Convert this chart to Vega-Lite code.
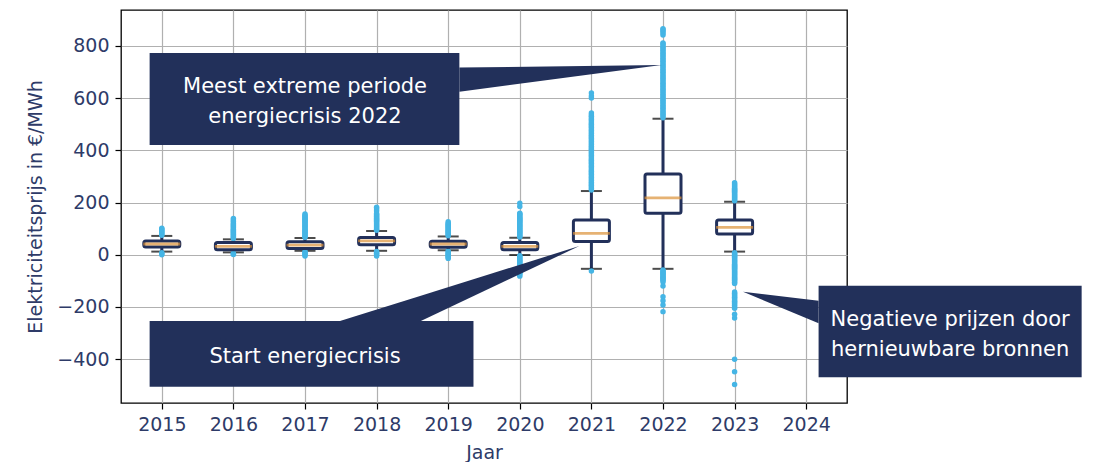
{
  "$schema": "https://vega.github.io/schema/vega-lite/v6.json",
  "width": 726,
  "height": 393,
  "autosize": {"type": "none"},
  "padding": {"left": 121, "top": 10, "right": 255, "bottom": 59},
  "background": "white",
  "config": {
    "view": {"stroke": "#000000", "strokeWidth": 1.3},
    "font": "DejaVu Sans",
    "axis": {
      "grid": true,
      "gridColor": "#b0b0b0",
      "gridWidth": 1.2,
      "domain": false,
      "tickColor": "#000000",
      "tickSize": 6,
      "tickWidth": 1.2,
      "labelFont": "DejaVu Sans",
      "labelFontSize": 19,
      "labelColor": "#2e3b68",
      "titleFont": "DejaVu Sans",
      "titleFontSize": 19,
      "titleFontWeight": "normal",
      "titleColor": "#2e3b68"
    }
  },
  "datasets": {
    "boxes": [
      {"year": 2015, "lo": 12, "q1": 30, "med": 41, "q3": 53, "hi": 72},
      {"year": 2016, "lo": 9, "q1": 19, "med": 32, "q3": 47, "hi": 59},
      {"year": 2017, "lo": 15, "q1": 24, "med": 37, "q3": 50, "hi": 64},
      {"year": 2018, "lo": 15, "q1": 38, "med": 53, "q3": 66, "hi": 91},
      {"year": 2019, "lo": 17, "q1": 29, "med": 41, "q3": 52, "hi": 70},
      {"year": 2020, "lo": -1, "q1": 19, "med": 32, "q3": 47, "hi": 65},
      {"year": 2021, "lo": -54, "q1": 51, "med": 82, "q3": 133, "hi": 244},
      {"year": 2022, "lo": -54, "q1": 159, "med": 218, "q3": 309, "hi": 521},
      {"year": 2023, "lo": 12, "q1": 79, "med": 105, "q3": 133, "hi": 203}
    ],
    "outliers": [
      {"year": 2015, "v": 75}, {"year": 2015, "v": 79}, {"year": 2015, "v": 83}, {"year": 2015, "v": 87}, {"year": 2015, "v": 91}, {"year": 2015, "v": 95}, {"year": 2015, "v": 99}, {"year": 2015, "v": 101},
      {"year": 2015, "v": 8}, {"year": 2015, "v": 4}, {"year": 2015, "v": 0},
      {"year": 2016, "v": 62}, {"year": 2016, "v": 66}, {"year": 2016, "v": 70}, {"year": 2016, "v": 74}, {"year": 2016, "v": 78}, {"year": 2016, "v": 82}, {"year": 2016, "v": 86}, {"year": 2016, "v": 90}, {"year": 2016, "v": 94}, {"year": 2016, "v": 98}, {"year": 2016, "v": 102}, {"year": 2016, "v": 106}, {"year": 2016, "v": 110}, {"year": 2016, "v": 114}, {"year": 2016, "v": 118}, {"year": 2016, "v": 122}, {"year": 2016, "v": 128}, {"year": 2016, "v": 133}, {"year": 2016, "v": 139},
      {"year": 2016, "v": 6}, {"year": 2016, "v": 3}, {"year": 2016, "v": 1},
      {"year": 2017, "v": 67}, {"year": 2017, "v": 71}, {"year": 2017, "v": 75}, {"year": 2017, "v": 79}, {"year": 2017, "v": 83}, {"year": 2017, "v": 87}, {"year": 2017, "v": 91}, {"year": 2017, "v": 95}, {"year": 2017, "v": 99}, {"year": 2017, "v": 103}, {"year": 2017, "v": 107}, {"year": 2017, "v": 111}, {"year": 2017, "v": 115}, {"year": 2017, "v": 119}, {"year": 2017, "v": 123}, {"year": 2017, "v": 127}, {"year": 2017, "v": 131}, {"year": 2017, "v": 135}, {"year": 2017, "v": 139}, {"year": 2017, "v": 143}, {"year": 2017, "v": 147}, {"year": 2017, "v": 151}, {"year": 2017, "v": 156},
      {"year": 2017, "v": 12}, {"year": 2017, "v": 8}, {"year": 2017, "v": 4}, {"year": 2017, "v": 0}, {"year": 2017, "v": -5},
      {"year": 2018, "v": 94}, {"year": 2018, "v": 98}, {"year": 2018, "v": 102}, {"year": 2018, "v": 106}, {"year": 2018, "v": 110}, {"year": 2018, "v": 114}, {"year": 2018, "v": 118}, {"year": 2018, "v": 122}, {"year": 2018, "v": 126}, {"year": 2018, "v": 130}, {"year": 2018, "v": 134}, {"year": 2018, "v": 138}, {"year": 2018, "v": 142}, {"year": 2018, "v": 146}, {"year": 2018, "v": 150}, {"year": 2018, "v": 154}, {"year": 2018, "v": 158}, {"year": 2018, "v": 168}, {"year": 2018, "v": 175}, {"year": 2018, "v": 182},
      {"year": 2018, "v": 12}, {"year": 2018, "v": 8}, {"year": 2018, "v": 4}, {"year": 2018, "v": 0}, {"year": 2018, "v": -5},
      {"year": 2019, "v": 73}, {"year": 2019, "v": 77}, {"year": 2019, "v": 81}, {"year": 2019, "v": 85}, {"year": 2019, "v": 89}, {"year": 2019, "v": 93}, {"year": 2019, "v": 97}, {"year": 2019, "v": 101}, {"year": 2019, "v": 105}, {"year": 2019, "v": 109}, {"year": 2019, "v": 113}, {"year": 2019, "v": 117}, {"year": 2019, "v": 121}, {"year": 2019, "v": 126},
      {"year": 2019, "v": 14}, {"year": 2019, "v": 10}, {"year": 2019, "v": 6}, {"year": 2019, "v": 2}, {"year": 2019, "v": -2}, {"year": 2019, "v": -6}, {"year": 2019, "v": -10}, {"year": 2019, "v": -14},
      {"year": 2020, "v": 68}, {"year": 2020, "v": 72}, {"year": 2020, "v": 76}, {"year": 2020, "v": 80}, {"year": 2020, "v": 84}, {"year": 2020, "v": 88}, {"year": 2020, "v": 92}, {"year": 2020, "v": 96}, {"year": 2020, "v": 100}, {"year": 2020, "v": 104}, {"year": 2020, "v": 108}, {"year": 2020, "v": 112}, {"year": 2020, "v": 116}, {"year": 2020, "v": 120}, {"year": 2020, "v": 124}, {"year": 2020, "v": 128}, {"year": 2020, "v": 132}, {"year": 2020, "v": 136}, {"year": 2020, "v": 140}, {"year": 2020, "v": 144}, {"year": 2020, "v": 148}, {"year": 2020, "v": 152}, {"year": 2020, "v": 156}, {"year": 2020, "v": 159}, {"year": 2020, "v": 185}, {"year": 2020, "v": 197},
      {"year": 2020, "v": -4}, {"year": 2020, "v": -8}, {"year": 2020, "v": -12}, {"year": 2020, "v": -16}, {"year": 2020, "v": -20}, {"year": 2020, "v": -24}, {"year": 2020, "v": -28}, {"year": 2020, "v": -32}, {"year": 2020, "v": -36}, {"year": 2020, "v": -40}, {"year": 2020, "v": -44}, {"year": 2020, "v": -48}, {"year": 2020, "v": -52}, {"year": 2020, "v": -56}, {"year": 2020, "v": -60}, {"year": 2020, "v": -64}, {"year": 2020, "v": -68}, {"year": 2020, "v": -72}, {"year": 2020, "v": -76}, {"year": 2020, "v": -82},
      {"year": 2021, "v": 248}, {"year": 2021, "v": 254}, {"year": 2021, "v": 260}, {"year": 2021, "v": 266}, {"year": 2021, "v": 272}, {"year": 2021, "v": 278}, {"year": 2021, "v": 284}, {"year": 2021, "v": 290}, {"year": 2021, "v": 296}, {"year": 2021, "v": 302}, {"year": 2021, "v": 308}, {"year": 2021, "v": 314}, {"year": 2021, "v": 320}, {"year": 2021, "v": 326}, {"year": 2021, "v": 332}, {"year": 2021, "v": 338}, {"year": 2021, "v": 344}, {"year": 2021, "v": 350}, {"year": 2021, "v": 356}, {"year": 2021, "v": 362}, {"year": 2021, "v": 368}, {"year": 2021, "v": 374}, {"year": 2021, "v": 380}, {"year": 2021, "v": 386}, {"year": 2021, "v": 392}, {"year": 2021, "v": 398}, {"year": 2021, "v": 404}, {"year": 2021, "v": 410}, {"year": 2021, "v": 416}, {"year": 2021, "v": 422}, {"year": 2021, "v": 428}, {"year": 2021, "v": 434}, {"year": 2021, "v": 440}, {"year": 2021, "v": 446}, {"year": 2021, "v": 452}, {"year": 2021, "v": 458}, {"year": 2021, "v": 464}, {"year": 2021, "v": 470}, {"year": 2021, "v": 476}, {"year": 2021, "v": 482}, {"year": 2021, "v": 488}, {"year": 2021, "v": 494}, {"year": 2021, "v": 500}, {"year": 2021, "v": 506}, {"year": 2021, "v": 512}, {"year": 2021, "v": 518}, {"year": 2021, "v": 524}, {"year": 2021, "v": 530}, {"year": 2021, "v": 536}, {"year": 2021, "v": 543}, {"year": 2021, "v": 600}, {"year": 2021, "v": 608}, {"year": 2021, "v": 620},
      {"year": 2021, "v": -62},
      {"year": 2022, "v": 525}, {"year": 2022, "v": 531}, {"year": 2022, "v": 537}, {"year": 2022, "v": 543}, {"year": 2022, "v": 549}, {"year": 2022, "v": 555}, {"year": 2022, "v": 561}, {"year": 2022, "v": 567}, {"year": 2022, "v": 573}, {"year": 2022, "v": 579}, {"year": 2022, "v": 585}, {"year": 2022, "v": 591}, {"year": 2022, "v": 597}, {"year": 2022, "v": 603}, {"year": 2022, "v": 609}, {"year": 2022, "v": 615}, {"year": 2022, "v": 621}, {"year": 2022, "v": 627}, {"year": 2022, "v": 633}, {"year": 2022, "v": 639}, {"year": 2022, "v": 645}, {"year": 2022, "v": 651}, {"year": 2022, "v": 657}, {"year": 2022, "v": 663}, {"year": 2022, "v": 669}, {"year": 2022, "v": 675}, {"year": 2022, "v": 681}, {"year": 2022, "v": 687}, {"year": 2022, "v": 693}, {"year": 2022, "v": 699}, {"year": 2022, "v": 705}, {"year": 2022, "v": 711}, {"year": 2022, "v": 717}, {"year": 2022, "v": 723}, {"year": 2022, "v": 729}, {"year": 2022, "v": 735}, {"year": 2022, "v": 741}, {"year": 2022, "v": 747}, {"year": 2022, "v": 753}, {"year": 2022, "v": 759}, {"year": 2022, "v": 765}, {"year": 2022, "v": 771}, {"year": 2022, "v": 777}, {"year": 2022, "v": 783}, {"year": 2022, "v": 789}, {"year": 2022, "v": 795}, {"year": 2022, "v": 801}, {"year": 2022, "v": 807}, {"year": 2022, "v": 811}, {"year": 2022, "v": 842}, {"year": 2022, "v": 849}, {"year": 2022, "v": 856}, {"year": 2022, "v": 862}, {"year": 2022, "v": 866},
      {"year": 2022, "v": -58}, {"year": 2022, "v": -62}, {"year": 2022, "v": -66}, {"year": 2022, "v": -70}, {"year": 2022, "v": -74}, {"year": 2022, "v": -78}, {"year": 2022, "v": -82}, {"year": 2022, "v": -86}, {"year": 2022, "v": -90}, {"year": 2022, "v": -94}, {"year": 2022, "v": -98}, {"year": 2022, "v": -104}, {"year": 2022, "v": -120}, {"year": 2022, "v": -161}, {"year": 2022, "v": -176}, {"year": 2022, "v": -193}, {"year": 2022, "v": -218},
      {"year": 2023, "v": 207}, {"year": 2023, "v": 211}, {"year": 2023, "v": 215}, {"year": 2023, "v": 219}, {"year": 2023, "v": 223}, {"year": 2023, "v": 227}, {"year": 2023, "v": 231}, {"year": 2023, "v": 235}, {"year": 2023, "v": 239}, {"year": 2023, "v": 243}, {"year": 2023, "v": 247}, {"year": 2023, "v": 251}, {"year": 2023, "v": 255}, {"year": 2023, "v": 259}, {"year": 2023, "v": 263}, {"year": 2023, "v": 267}, {"year": 2023, "v": 271}, {"year": 2023, "v": 276},
      {"year": 2023, "v": 8}, {"year": 2023, "v": 4}, {"year": 2023, "v": 0}, {"year": 2023, "v": -4}, {"year": 2023, "v": -8}, {"year": 2023, "v": -12}, {"year": 2023, "v": -16}, {"year": 2023, "v": -20}, {"year": 2023, "v": -24}, {"year": 2023, "v": -28}, {"year": 2023, "v": -32}, {"year": 2023, "v": -36}, {"year": 2023, "v": -40}, {"year": 2023, "v": -44}, {"year": 2023, "v": -48}, {"year": 2023, "v": -52}, {"year": 2023, "v": -56}, {"year": 2023, "v": -60}, {"year": 2023, "v": -64}, {"year": 2023, "v": -68}, {"year": 2023, "v": -72}, {"year": 2023, "v": -76}, {"year": 2023, "v": -80}, {"year": 2023, "v": -84}, {"year": 2023, "v": -88}, {"year": 2023, "v": -92}, {"year": 2023, "v": -96}, {"year": 2023, "v": -100}, {"year": 2023, "v": -105}, {"year": 2023, "v": -110},
      {"year": 2023, "v": -143}, {"year": 2023, "v": -148}, {"year": 2023, "v": -153}, {"year": 2023, "v": -158}, {"year": 2023, "v": -163}, {"year": 2023, "v": -168}, {"year": 2023, "v": -173}, {"year": 2023, "v": -178}, {"year": 2023, "v": -183}, {"year": 2023, "v": -188}, {"year": 2023, "v": -194}, {"year": 2023, "v": -200}, {"year": 2023, "v": -205},
      {"year": 2023, "v": -228}, {"year": 2023, "v": -242}, {"year": 2023, "v": -400}, {"year": 2023, "v": -448}, {"year": 2023, "v": -497}
    ],
    "notes": [
      {"id": "a", "year": 2014.83, "year2": 2019.156, "v": 772.8, "v2": 420.3},
      {"id": "b", "year": 2014.83, "year2": 2019.353, "v": -254, "v2": -505.7},
      {"id": "c", "year": 2024.173, "year2": 2027.847, "v": -118.8, "v2": -469.7}
    ],
    "pointers": [
      {"id": "a", "year": 2019.156, "v": 716.9, "v2": 624.5},
      {"id": "a", "year": 2021.979, "v": 726.8, "v2": 726.8},
      {"id": "b", "year": 2017.489, "v": -254, "v2": -254},
      {"id": "b", "year": 2018.618, "v": -156.9, "v2": -254},
      {"id": "b", "year": 2020.832, "v": 33.3, "v2": 33.3},
      {"id": "c", "year": 2023.118, "v": -141.8, "v2": -141.8},
      {"id": "c", "year": 2024.173, "v": -175.9, "v2": -262.8}
    ],
    "labels": [
      {"year": 2017.0, "v": 644.4, "text": "Meest extreme periode\nenergiecrisis 2022"},
      {"year": 2017.0, "v": -390.8, "text": "Start energiecrisis"},
      {"year": 2026.01, "v": -250.2, "text": "Negatieve prijzen door\nhernieuwbare bronnen"}
    ]
  },
  "layer": [
    {
      "data": {"name": "boxes"},
      "mark": {"type": "rule", "color": "#22305a", "strokeWidth": 3},
      "encoding": {
        "x": {
          "field": "year", "type": "quantitative",
          "scale": {"domain": [2014.5, 2024.5], "nice": false, "zero": false},
          "axis": {"title": "Jaar", "values": [2015, 2016, 2017, 2018, 2019, 2020, 2021, 2022, 2023, 2024], "format": "d", "labelPadding": 6, "titlePadding": 9}
        },
        "y": {
          "field": "lo", "type": "quantitative",
          "scale": {"domain": [-568, 937.5], "nice": false, "zero": false},
          "axis": {"title": "Elektriciteitsprijs in €/MWh", "values": [-400, -200, 0, 200, 400, 600, 800], "labelPadding": 6, "titlePadding": 11}
        },
        "y2": {"field": "hi"}
      }
    },
    {
      "data": {"name": "boxes"},
      "mark": {"type": "tick", "orient": "horizontal", "color": "#000000", "size": 21, "thickness": 2},
      "encoding": {
        "x": {"field": "year", "type": "quantitative"},
        "y": {"field": "lo", "type": "quantitative"}
      }
    },
    {
      "data": {"name": "boxes"},
      "mark": {"type": "tick", "orient": "horizontal", "color": "#000000", "size": 21, "thickness": 2},
      "encoding": {
        "x": {"field": "year", "type": "quantitative"},
        "y": {"field": "hi", "type": "quantitative"}
      }
    },
    {
      "data": {"name": "outliers"},
      "mark": {"type": "circle", "color": "#45b5e5", "opacity": 1, "size": 30},
      "encoding": {
        "x": {"field": "year", "type": "quantitative"},
        "y": {"field": "v", "type": "quantitative"}
      }
    },
    {
      "data": {"name": "boxes"},
      "mark": {"type": "bar", "size": 36, "fill": "white", "stroke": "#22305a", "strokeWidth": 3, "cornerRadius": 2},
      "encoding": {
        "x": {"field": "year", "type": "quantitative"},
        "y": {"field": "q1", "type": "quantitative"},
        "y2": {"field": "q3"}
      }
    },
    {
      "data": {"name": "boxes"},
      "mark": {"type": "tick", "orient": "horizontal", "color": "#dc9238", "size": 37, "thickness": 2.8},
      "encoding": {
        "x": {"field": "year", "type": "quantitative"},
        "y": {"field": "med", "type": "quantitative"}
      }
    },
    {
      "data": {"name": "pointers"},
      "mark": {"type": "area", "orient": "vertical", "color": "#22305a", "opacity": 1},
      "encoding": {
        "x": {"field": "year", "type": "quantitative"},
        "y": {"field": "v", "type": "quantitative"},
        "y2": {"field": "v2"},
        "detail": {"field": "id"}
      }
    },
    {
      "data": {"name": "notes"},
      "mark": {"type": "rect", "color": "#22305a", "opacity": 1},
      "encoding": {
        "x": {"field": "year", "type": "quantitative"},
        "x2": {"field": "year2"},
        "y": {"field": "v", "type": "quantitative"},
        "y2": {"field": "v2"}
      }
    },
    {
      "data": {"name": "labels"},
      "mark": {"type": "text", "color": "white", "font": "DejaVu Sans", "fontSize": 21, "align": "center", "baseline": "middle", "lineBreak": "\n", "lineHeight": 30},
      "encoding": {
        "x": {"field": "year", "type": "quantitative"},
        "y": {"field": "v", "type": "quantitative"},
        "text": {"field": "text"}
      }
    }
  ]
}
